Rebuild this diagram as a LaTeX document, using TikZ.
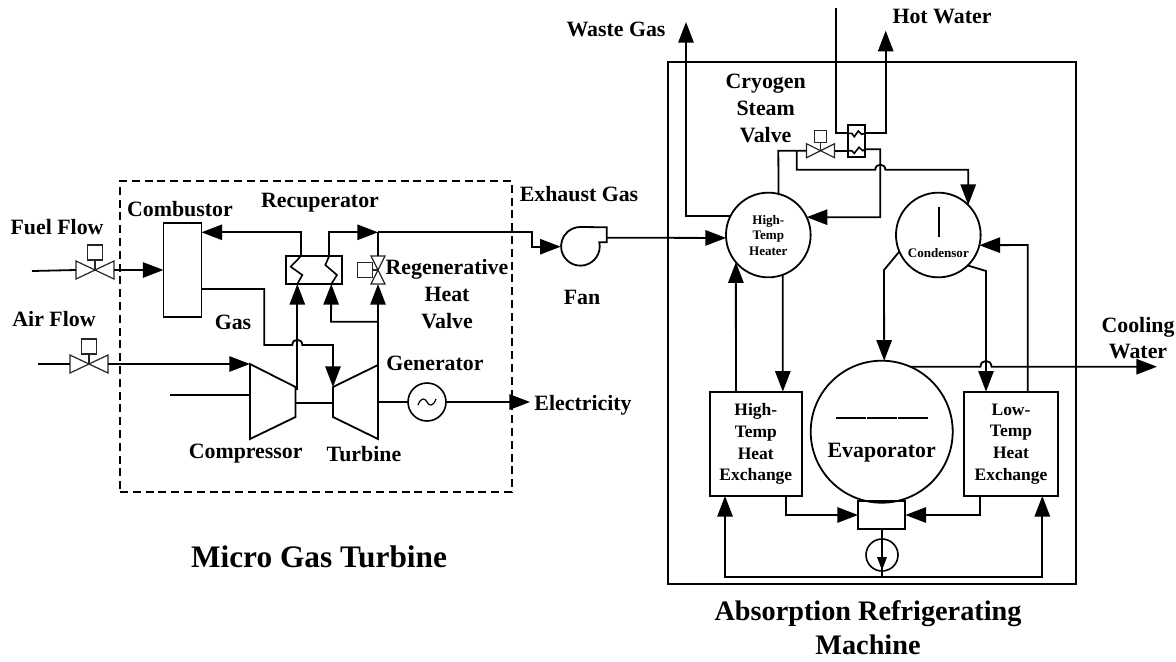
\documentclass[tikz,border=0pt]{standalone}
\usepackage{fontspec}
\setmainfont{Liberation Serif}
\usetikzlibrary{arrows.meta}
\tikzset{
  x=0.75pt,y=-0.75pt,
  pipe/.style={line width=1.35pt,line join=miter},
  flow/.style={pipe,-{Triangle[length=15.5pt,width=11.5pt]}},
  smallflow/.style={pipe,-{Triangle[length=10pt,width=7pt]}},
  thin part/.style={line width=0.9pt,draw=black!85},
  coil/.style={line width=1.2pt,draw=black},
  unit/.style={draw,line width=1.35pt,inner sep=0pt,outer sep=0pt,fill=none},
  ctrlbox/.style={draw=black!85,line width=0.9pt,inner sep=0pt,outer sep=0pt},
  lab/.style={font=\bfseries\fontsize{16.4}{19.4}\selectfont,align=center,inner sep=0pt,text=black},
  labsm/.style={font=\bfseries\fontsize{13.1}{16.4}\selectfont,align=center,inner sep=0pt,text=black},
  labtiny/.style={font=\bfseries\fontsize{9.8}{11.5}\selectfont,align=center,inner sep=0pt,text=black},
  labbig/.style={font=\bfseries\fontsize{21.2}{25.5}\selectfont,align=center,inner sep=0pt,text=black},
  labhuge/.style={font=\bfseries\fontsize{23.5}{28}\selectfont,align=center,inner sep=0pt,text=black},
}
\newcommand{\hvalve}[6]{% name, x, y, half width, half height, box size px
  \draw[thin part,fill=white] (#2-#4,#3-#5)--(#2+#4,#3+#5)--(#2+#4,#3-#5)--(#2-#4,#3+#5)--cycle;
  \draw[thin part] (#2,#3)--(#2,#3-#5-1);
  \node[ctrlbox,minimum size=0.75*#6 pt] (#1box) at (#2,#3-#5-1-#6/2) {};
  \coordinate (#1l) at (#2-#4,#3); \coordinate (#1r) at (#2+#4,#3);}
\begin{document}
\begin{tikzpicture}
\useasboundingbox (0,0) rectangle (1176,661);
% boundary boxes
\node[draw,line width=1.35pt,dash pattern=on 6pt off 3.6pt,minimum width=294pt,minimum height=233.25pt,inner sep=0pt] (mgt) at (316,336.5) {};
\node[unit,minimum width=306pt,minimum height=392pt] (arm) at (872,323) {};
% --- Micro gas turbine units
\node[unit,minimum width=28.5pt,minimum height=70.5pt] (comb) at (182.5,270) {};
\node[unit,minimum width=42pt,minimum height=21.3pt] (recup) at (314,270) {};
\draw[coil] (301.3,255.7)--(290.7,266.7)--(302.3,275)--(297.3,284)
  (329.3,255.7)--(325.3,265)--(337,275)--(331.3,284);
\coordinate (rAin) at (297.3,284); \coordinate (rAout) at (301.3,255.7);
\coordinate (rBin) at (331.3,284); \coordinate (rBout) at (329.3,255.7);
% compressor and turbine
\draw[pipe] (250,364)--(295.5,387)--(295.5,417)--(250,439)--cycle;
\draw[pipe] (333,387)--(378,365)--(378,439)--(333,417)--cycle;
\coordinate (cIn) at (250,364); \coordinate (cIn2) at (250,395);
\coordinate (cOut) at (297.3,390); \coordinate (cS) at (295.5,403);
\coordinate (tIn) at (333,387); \coordinate (tS) at (333,403);
\coordinate (tOut) at (378,365); \coordinate (tG) at (378,402);
\node[draw,circle,line width=1.2pt,minimum size=28.5pt,inner sep=0pt,outer sep=0pt] (gen) at (427,402) {};
\draw[line width=0.9pt] (418,405) .. controls (421,397) and (425,398) .. (427,402) .. controls (429,406) and (433,407) .. (436,399);
% valves
\hvalve{fv}{95}{270}{19}{9}{15}
\hvalve{av}{89}{364}{19}{9}{15}
% regenerative valve
\draw[thin part] (371,256)--(385,284)--(371,284)--(385,256)--cycle;
\node[ctrlbox,minimum size=11.5pt] (rvbox) at (365,270) {};
\draw[thin part] (rvbox.east)--(378,270);
\coordinate (rvT) at (378,256); \coordinate (rvB) at (378,284);
% fan
\node[circle,minimum size=29pt,inner sep=0pt,outer sep=0pt] (fan) at (580,246.5) {};
\draw[pipe] (599.3,242.3) arc[start angle=12,end angle=-270,radius=14.5pt] -- (606.7,227.3)--(606.7,242.3)--cycle;
\coordinate (fanOut) at (606.7,237.7);
% --- free ends
\coordinate (fuelIn) at (32,271); \coordinate (airIn) at (38,364); \coordinate (aux) at (170,395);
\coordinate (elec) at (530,402);
% connectors MGT
\draw[pipe] (fuelIn)--(fvl);
\draw[flow] (fvr)--(comb.west|-fvr);
\draw[pipe] (airIn)--(avl);
\draw[flow] (avr)--(cIn);
\draw[pipe] (aux)--(cIn2);
\draw[flow] (cOut)--(rAin);
\draw[flow] (rAout)--(rAout|-0,232.3)--(comb.east|-0,232.3);
\draw[flow] (comb.east|-0,289)--(264.3,289)--(264.3,345)--(292.3,345) .. controls (292.3,338) and (302.3,338) .. (302.3,345) --(333,345)--(tIn);
\draw[flow] (rBout)--(329.3,232.3)--(378,232.3);
\draw[flow] (378,232.3)--(532,232.3)--(532,246.7)--(fan.west|-0,246.7);
\draw[pipe] (378,232.3)--(rvT);
\draw[flow] (tOut)--(rvB);
\draw[flow] (378,321.7)--(331,321.7)--(rBin);
\draw[pipe] (cS)--(tS);
\draw[pipe] (tG)--(gen.west);
\draw[flow] (gen.east)--(elec);
% --- Absorption machine units
\node[draw,circle,line width=1.35pt,minimum size=63.5pt,inner sep=0pt,outer sep=0pt] (heater) at (768.3,235) {};
\node[draw,circle,line width=1.35pt,minimum size=63.5pt,inner sep=0pt,outer sep=0pt] (cond) at (938.3,235) {};
\node[draw,circle,line width=1.35pt,minimum size=106.5pt,inner sep=0pt,outer sep=0pt] (evap) at (881.7,431.7) {};
\node[unit,minimum width=68.75pt,minimum height=78.2pt] (hx) at (755.8,443.8) {};
\node[unit,minimum width=70.5pt,minimum height=78.2pt] (lx) at (1011,443.8) {};
\node[unit,minimum width=35.5pt,minimum height=21.2pt] (abs) at (881.7,514.8) {};
\node[draw,circle,line width=1.2pt,minimum size=24pt,inner sep=0pt,outer sep=0pt] (pump) at (882,555) {};
\node[unit,minimum width=12.5pt,minimum height=24pt] (hex) at (856.7,141) {};
\draw[coil] (hex.west|-0,133.3)--(851.7,133.3)--(854.3,136.7)--(858.3,131)--(861.7,134.3)--(hex.east|-0,133.3)
  (hex.west|-0,150.7)--(851.7,150.7)--(854.3,153.3)--(859,147.3)--(862.7,150.7)--(hex.east|-0,149.3);
\hvalve{cv}{820.5}{150.7}{14}{7}{12}
\draw[pipe] (939,206.7)--(939,236.7);
\draw[line width=1.5pt] (836,418.3)--(865.5,418.3) (867,418.3)--(896.5,418.3) (898,418.3)--(928,418.3);
% free ends
\coordinate (wasteEnd) at (686,22); \coordinate (hotEnd) at (885.7,30.7);
\coordinate (coldIn) at (836,8); \coordinate (coolEnd) at (1157,366.7);
% connectors ARM
\draw[flow] (fanOut)--(heater.184);
\draw[flow] (heater.153)--(wasteEnd|-heater.153)--(wasteEnd);
\draw[pipe] (coldIn)--(836,133.3)--(hex.west|-0,133.3);
\draw[flow] (hex.east|-0,133.3)--(885.7,133.3)--(hotEnd);
\draw[pipe] (cvr)--(hex.west|-0,150.7);
\draw[flow] (hex.east|-0,149.3)--(880.3,149.3)--(880.3,217.3)--(heater.25);
\draw[pipe] (cvl)--(778.3,150.7)--(heater.76);
\draw[flow] (796.7,150.7)--(796.7,169.7)--(875.3,169.7) .. controls (875.3,163) and (885.3,163) .. (885.3,169.7) --(968.2,169.7)--(cond.45);
\draw[flow] (cond.203) -- (884,270) -- (evap.88);
\draw[flow] (cond.-46)--(986,271)--(lx.north-|986,0);
\draw[flow] (evap.66.6)--(980.5,366.7) .. controls (980.5,359) and (991.5,359) .. (991.5,366.7) --(coolEnd);
\draw[flow] (lx.north-|1027.7,0)--(1027.7,245)--(cond.-14);
\draw[flow] (hx.north-|735.9,0)--(heater.220);
\draw[flow] (heater.-70)--(hx.north-|782.8,0);
\draw[flow] (786.3,496)--(786.3,515)--(abs.west|-0,515);
\draw[flow] (979.7,496)--(979.7,515)--(abs.east|-0,515);
\draw[pipe] (abs.south-|882,0)--(882,576.7);
\draw[smallflow] (882,555)--(882,570.5);
\draw[flow] (882,576.7)--(725,576.7)--(hx.south-|725,0);
\draw[flow] (882,576.7)--(1042.3,576.7)--(lx.south-|1042.3,0);
% --- labels
\node[lab] (t1) at (57,227) {Fuel Flow};
\node[lab] (t2) at (54,319) {Air Flow};
\node[lab] (t3) at (180,209) {Combustor};
\node[lab] (t4) at (320,203) {Recuperator};
\node[lab] (t5) at (233,322) {Gas};
\node[lab] (t6) at (447,294) {Regenerative\\[1pt]Heat\\[1pt]Valve};
\node[lab] (t7) at (435,363) {Generator};
\node[lab] (t8) at (579,194) {Exhaust Gas};
\node[lab] (t9) at (582,297) {Fan};
\node[lab] (t10) at (245.7,454) {Compressor};
\node[lab] (t11) at (364,454) {Turbine};
\node[lab] (t12) at (583,405) {Electricity};
\node[labhuge] (t13) at (319,557) {Micro Gas Turbine};
\node[labbig] (t14) at (868,628) {Absorption Refrigerating\\Machine};
\node[lab] (t15) at (616,29) {Waste Gas};
\node[lab] (t16) at (942,17) {Hot Water};
\node[lab] (t17) at (765.7,108.5) {Cryogen\\[1pt]Steam\\[1pt]Valve};
\node[labtiny] (t18) at (768.3,235.5) {High-\\Temp\\Heater};
\node[labtiny] (t19) at (938.3,252.7) {Condensor};
\node[lab] (t20) at (881.7,453) {Evaporator};
\node[labsm] (t21) at (755.8,444) {High-\\Temp\\Heat\\Exchange};
\node[labsm] (t22) at (1011,444) {Low-\\Temp\\Heat\\Exchange};
\node[lab] (t23) at (1138,338) {Cooling\\Water};
\end{tikzpicture}
\end{document}
